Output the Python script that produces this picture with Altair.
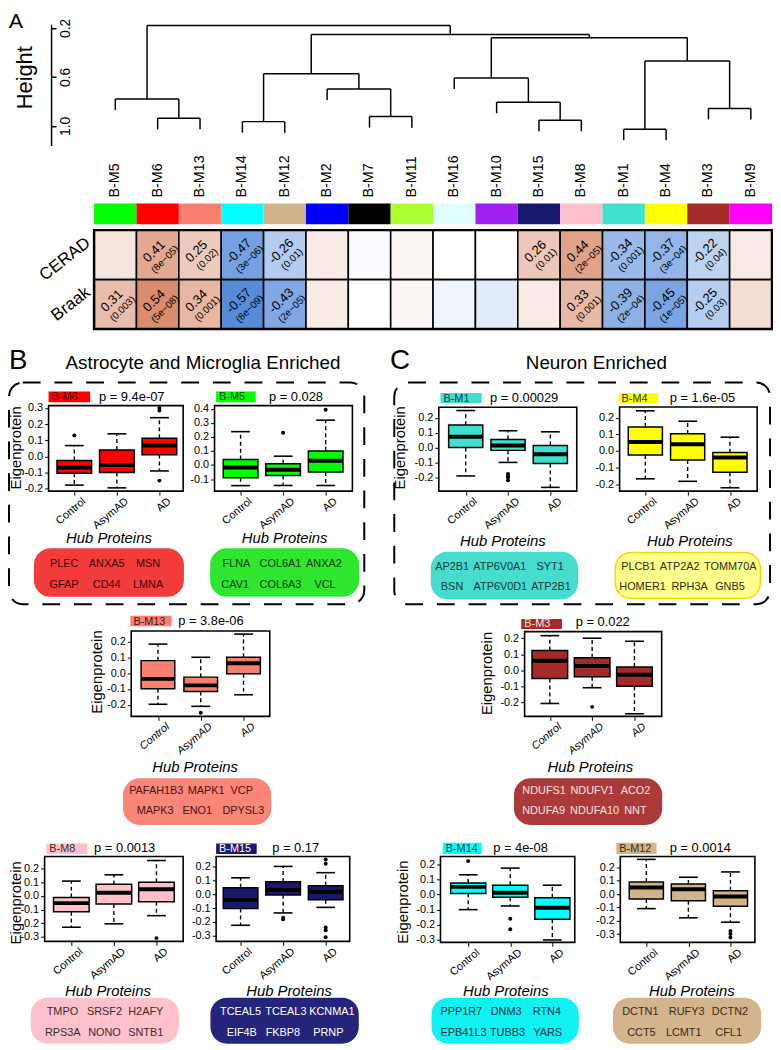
import altair as alt
import pandas as pd

OFF = 8
W, H = 773, 1042
FONT = "Liberation Sans"


def X(v):
    return v - OFF


def Y(v):
    return v - OFF


# ------------------------------------------------------------------ data (panel A)
LEAVES = ["B-M5", "B-M6", "B-M13", "B-M14", "B-M12", "B-M2", "B-M7", "B-M11",
          "B-M16", "B-M10", "B-M15", "B-M8", "B-M1", "B-M4", "B-M3", "B-M9"]
MODULE_COLORS = ["#00FF00", "#FF0000", "#FA8072", "#00FFFF", "#D2B48C", "#0000FF", "#000000", "#ADFF2F",
                 "#E0FFFF", "#A020F0", "#191970", "#FFC0CB", "#40E0D0", "#FFFF00", "#A52A2A", "#FF00FF"]
# hierarchical merges (R hclust style): "#k" refers to the k-th merge
MERGE_A = ["B-M1", "B-M14", "B-M15", "B-M6", "B-M7", "B-M3", "B-M10", "B-M5", "B-M2", "B-M16",
           "#2", "#1", "#10", "#11", "#8"]
MERGE_B = ["B-M4", "B-M12", "B-M8", "B-M13", "B-M11", "B-M9", "#3", "#4", "#5", "#7",
           "#9", "#6", "#12", "#13", "#14"]
MERGE_H = [1.027, 0.965, 0.954, 0.938, 0.924, 0.857, 0.806, 0.78, 0.698, 0.609,
           0.574, 0.469, 0.28, 0.253, 0.18]
HANG = 0.09

CERAD_R = [0.12, 0.41, 0.25, -0.47, -0.26, 0.10, -0.02, 0.04, 0.0, 0.0, 0.26, 0.44, -0.34, -0.37, -0.22, 0.10]
CERAD_P = ["", "8e\u221205", "0.02", "3e\u221206", "0.01", "", "", "", "", "", "0.01", "2e\u221205",
           "0.001", "3e\u221204", "0.04", ""]
BRAAK_R = [0.31, 0.54, 0.34, -0.57, -0.43, 0.09, 0.0, 0.04, -0.05, -0.10, 0.10, 0.33, -0.39, -0.45, -0.25, 0.16]
BRAAK_P = ["0.003", "5e\u221208", "0.001", "8e\u221209", "2e\u221205", "", "", "", "", "", "", "0.001",
           "2e\u221204", "1e\u221205", "0.03", ""]
TRAITS = ["CERAD", "Braak"]

# ------------------------------------------------------------------ data (boxplots)
GROUPS = ["Control", "AsymAD", "AD"]
STATS = {
    "B-M6": dict(lo=[-0.178, -0.195, -0.09], q1=[-0.104, -0.10, 0.011], med=[-0.069, -0.054, 0.067],
                 q3=[-0.025, 0.04, 0.113], hi=[0.067, 0.14, 0.24]),
    "B-M5": dict(lo=[-0.147, -0.146, -0.146], q1=[-0.091, -0.075, -0.05], med=[-0.017, -0.033, 0.030],
                 q3=[0.039, 0.009, 0.10], hi=[0.238, 0.063, 0.32]),
    "B-M1": dict(lo=[-0.191, -0.10, -0.268], q1=[0.0, -0.019, -0.107], med=[0.072, 0.014, -0.045],
                 q3=[0.151, 0.054, 0.014], hi=[0.249, 0.113, 0.106]),
    "B-M4": dict(lo=[-0.168, -0.183, -0.222], q1=[-0.024, -0.055, -0.129], med=[0.054, 0.04, -0.04],
                 q3=[0.145, 0.103, -0.01], hi=[0.242, 0.179, 0.083]),
    "B-M13": dict(lo=[-0.196, -0.209, -0.136], q1=[-0.098, -0.115, -0.004], med=[-0.036, -0.077, 0.062],
                  q3=[0.079, -0.025, 0.10], hi=[0.183, 0.10, 0.246]),
    "B-M3": dict(lo=[-0.206, -0.108, -0.27], q1=[-0.051, -0.04, -0.099], med=[0.06, 0.027, -0.027],
                 q3=[0.123, 0.078, 0.021], hi=[0.216, 0.20, 0.181]),
    "B-M8": dict(lo=[-0.23, -0.205, -0.145], q1=[-0.116, -0.06, -0.043], med=[-0.053, 0.024, 0.049],
                 q3=[-0.012, 0.085, 0.101], hi=[0.109, 0.155, 0.26]),
    "B-M15": dict(lo=[-0.224, -0.135, -0.095], q1=[-0.104, -0.005, -0.04], med=[-0.04, 0.031, 0.018],
                  q3=[0.047, 0.089, 0.061], hi=[0.118, 0.20, 0.155]),
    "B-M14": dict(lo=[-0.10, -0.076, -0.30], q1=[0.007, -0.018, -0.163], med=[0.05, 0.012, -0.088],
                  q3=[0.076, 0.061, -0.022], hi=[0.13, 0.174, 0.061]),
    "B-M12": dict(lo=[-0.109, -0.178, -0.211], q1=[-0.037, -0.05, -0.092], med=[0.049, 0.036, -0.018],
                  q3=[0.091, 0.076, 0.025], hi=[0.26, 0.126, 0.166]),
}
OUT_G = {
    "B-M6": ["Control", "AD", "AD", "AD"], "B-M5": ["AsymAD", "AD"],
    "B-M1": ["AsymAD", "AsymAD", "AsymAD", "AsymAD"], "B-M4": [],
    "B-M13": ["AsymAD"], "B-M3": ["AsymAD"], "B-M8": ["AD"],
    "B-M15": ["AsymAD", "AsymAD", "AD", "AD", "AD", "AD", "AD"],
    "B-M14": ["Control", "AsymAD", "AsymAD"], "B-M12": ["AD", "AD", "AD"],
}
OUT_V = {
    "B-M6": [0.13, 0.285, 0.30, -0.15], "B-M5": [0.23, 0.394],
    "B-M1": [-0.177, -0.19, -0.20, -0.22], "B-M4": [],
    "B-M13": [-0.25], "B-M3": [-0.227], "B-M8": [-0.31],
    "B-M15": [-0.17, -0.18, 0.25, 0.22, -0.24, -0.26, -0.31],
    "B-M14": [0.22, -0.16, -0.229], "B-M12": [-0.277, -0.30, -0.325],
}
PVAL = {"B-M6": "9.4e-07", "B-M5": "0.028", "B-M1": "0.00029", "B-M4": "1.6e-05", "B-M13": "3.8e-06",
        "B-M3": "0.022", "B-M8": "0.0013", "B-M15": "0.17", "B-M14": "4e-08", "B-M12": "0.0014"}
HUB = {
    "B-M6": ["PLEC", "ANXA5", "MSN", "GFAP", "CD44", "LMNA"],
    "B-M5": ["FLNA", "COL6A1", "ANXA2", "CAV1", "COL6A3", "VCL"],
    "B-M1": ["AP2B1", "ATP6V0A1", "SYT1", "BSN", "ATP6V0D1", "ATP2B1"],
    "B-M4": ["PLCB1", "ATP2A2", "TOMM70A", "HOMER1", "RPH3A", "GNB5"],
    "B-M13": ["PAFAH1B3", "MAPK1", "VCP", "MAPK3", "ENO1", "DPYSL3"],
    "B-M3": ["NDUFS1", "NDUFV1", "ACO2", "NDUFA9", "NDUFA10", "NNT"],
    "B-M8": ["TMPO", "SRSF2", "H2AFY", "RPS3A", "NONO", "SNTB1"],
    "B-M15": ["TCEAL5", "TCEAL3", "KCNMA1", "EIF4B", "FKBP8", "PRNP"],
    "B-M14": ["PPP1R7", "DNM3", "RTN4", "EPB41L3", "TUBB3", "YARS"],
    "B-M12": ["DCTN1", "RUFY3", "DCTN2", "CCT5", "LCMT1", "CFL1"],
}

# ------------------------------------------------------------------ styles / layout
STYLE = {  # box fill, pill fill, pill stroke, text colour
    "B-M6": ("#FF0000", "#f23b3b", "#f23b3b", "#3d0808"),
    "B-M5": ("#00FF00", "#2ee62e", "#2ee62e", "#0b3a0b"),
    "B-M1": ("#40E0D0", "#48dccf", "#48dccf", "#0d3a37"),
    "B-M4": ("#FFFF00", "#ffff8c", "#e8e000", "#2e2e10"),
    "B-M13": ("#FA8072", "#f98677", "#f98677", "#4a1410"),
    "B-M3": ("#A52A2A", "#ab3a3a", "#ab3a3a", "#f8e0e0"),
    "B-M8": ("#FFC0CB", "#ffc2cc", "#ffc2cc", "#3a2a2c"),
    "B-M15": ("#191970", "#24247a", "#24247a", "#ffffff"),
    "B-M14": ("#00FFFF", "#10f2f2", "#10f2f2", "#0a3440"),
    "B-M12": ("#D2B48C", "#d4b48c", "#d4b48c", "#3a2c18"),
}
T3 = [-0.2, -0.1, 0.0, 0.1, 0.2, 0.3]
T4 = [-0.1, 0.0, 0.1, 0.2, 0.3, 0.4]
T2 = [-0.2, -0.1, 0.0, 0.1, 0.2]
T5 = [-0.3, -0.2, -0.1, 0.0, 0.1, 0.2]
LAY = {
    "B-M6": dict(fx=(49, 185), fy=(404.3, 490.7), c=(75, 161), bw=35, yd=(-0.215, 0.315), t=T3,
                 tag=(49, 91, 390, 401), pt=(100, 396), eig=(16, 447), hub=(110, 538.3),
                 pill=(35, 185, 549.3, 596.7), cols=[(64.7, 107.7, 149.5), (64.7, 107.8, 149.5)],
                 rows=(564.3, 586), it=False),
    "B-M5": dict(fx=(216.7, 356), fy=(404.3, 490.7), c=(243, 329), bw=35, yd=(-0.186, 0.424), t=T4,
                 tag=(218.3, 258.3, 390, 401), pt=(271.7, 396), eig=None, hub=(287.5, 538.3),
                 pill=(213, 362, 549.3, 596.7), cols=[(238.8, 283.3, 327.2), (237.5, 283.3, 328.3)],
                 rows=(564.3, 586), it=False),
    "B-M1": dict(fx=(443.3, 582.7), fy=(406, 490.7), c=(470.5, 556), bw=34.5, yd=(-0.293, 0.271), t=T2,
                 tag=(445, 486.7, 391.7, 401.7), pt=(495, 396.7), eig=(404.5, 447), hub=(508, 541),
                 pill=(436, 583.3, 552.7, 599.3), cols=[(456.7, 505, 555.8), (456.7, 505.5, 556.7)],
                 rows=(567.3, 587.7), it=False),
    "B-M4": dict(fx=(626, 765), fy=(405.7, 490.7), c=(652, 737.5), bw=34.5, yd=(-0.242, 0.265), t=T2,
                 tag=(625, 665, 391.7, 401.7), pt=(676.7, 396.7), eig=None, hub=(697, 541),
                 pill=(621.7, 768.3, 552.7, 599.3), cols=[(645, 686.7, 737.8), (649.2, 696.7, 737.5)],
                 rows=(567.3, 587.7), it=False),
    "B-M13": dict(fx=(132.5, 272.5), fy=(632, 718.3), c=(159.5, 246), bw=34, yd=(-0.272, 0.266), t=T2,
                  tag=(131.7, 173.3, 616.7, 627.3), pt=(180, 622.3), eig=(97.5, 673.5), hub=(197, 770),
                  pill=(125, 273.3, 781.7, 827.3), cols=[(157.8, 208.3, 244.2), (156.7, 199.2, 245.8)],
                  rows=(794, 814.3), it=True),
    "B-M3": dict(fx=(530, 668.5), fy=(632.7, 718.3), c=(555.5, 641), bw=36, yd=(-0.286, 0.241), t=T2,
                 tag=(526.7, 567.7, 620, 630), pt=(581.7, 623.3), eig=(492.5, 675), hub=(596.5, 770),
                 pill=(520, 668.3, 781.7, 827.3), cols=[(549.7, 598.3, 642), (549.2, 600.7, 642)],
                 rows=(794, 814.3), it=True),
    "B-M8": dict(fx=(45, 185), fy=(860, 945.7), c=(72, 158), bw=36, yd=(-0.334, 0.289), t=T5,
                 tag=(46.7, 88.3, 846.7, 857.3), pt=(95, 851.7), eig=(16, 906.7), hub=(109, 996),
                 pill=(31.7, 180, 1003.3, 1048.3), cols=[(63, 105.5, 147.2), (63.3, 105.5, 147.2)],
                 rows=(1017.3, 1038.3), it=False),
    "B-M15": dict(fx=(218.3, 353.3), fy=(860, 945.7), c=(243, 329), bw=35, yd=(-0.34, 0.271), t=T5,
                  tag=(218.3, 259.3, 846.7, 857.3), pt=(275, 851.7), eig=None, hub=(292, 996),
                  pill=(213.3, 361.7, 1003.3, 1048.3), cols=[(243, 288.8, 335.3), (244.2, 285.8, 331.7)],
                  rows=(1017.3, 1038.3), it=False),
    "B-M14": dict(fx=(445, 580.7), fy=(860, 946.7), c=(473, 558), bw=35.5, yd=(-0.316, 0.25), t=T5,
                  tag=(447.3, 486.7, 846, 857.3), pt=(498.3, 851.7), eig=(407, 906), hub=(511, 996),
                  pill=(436.7, 584, 1003.3, 1048.3), cols=[(466, 511.3, 552.5), (468.3, 512.7, 553.3)],
                  rows=(1017.3, 1038.3), it=False),
    "B-M12": dict(fx=(626.7, 762.7), fy=(860, 946.7), c=(653, 738), bw=34.5, yd=(-0.362, 0.281), t=T5,
                  tag=(622.7, 663.3, 846, 857.3), pt=(676.7, 851.7), eig=None, hub=(699, 996),
                  pill=(620, 768.3, 1003.3, 1048.3), cols=[(647, 693.8, 737.5), (648, 690.8, 736.2)],
                  rows=(1017.3, 1038.3), it=False),
}

NEG_FMT = "datum.value < 0 ? '-' + format(-datum.value, '.1f') : format(datum.value, '.1f')"
layers = []

# ------------------------------------------------------------------ panel A
pos = {n: i for i, n in enumerate(LEAVES)}
node_x, node_h, segs = {}, {}, []
for k, (a, b, h) in enumerate(zip(MERGE_A, MERGE_B, MERGE_H), start=1):
    xs = []
    for c in (a, b):
        if c.startswith("#"):
            cx, ch = node_x[c], node_h[c]
        else:
            cx, ch = pos[c], h + HANG
        segs.append(dict(x=cx, x2=cx, y=ch, y2=h))
        xs.append(cx)
    segs.append(dict(x=xs[0], x2=xs[1], y=h, y2=h))
    node_x["#%d" % k] = sum(xs) / 2.0
    node_h["#%d" % k] = h

xs_top = alt.Scale(domain=[-0.5, 15.5], range=[X(95), X(780)], nice=False, zero=False)
ys_dend = alt.Scale(domain=[0.17, 1.16], range=[Y(19), Y(141.5)], nice=False, zero=False)
ys_heat = alt.Scale(domain=[-0.5, 1.5], range=[Y(227), Y(327)], nice=False, zero=False)

layers.append(
    alt.Chart(pd.DataFrame(segs)).mark_rule(color="black", strokeWidth=1.5).encode(
        x=alt.X("x:Q", scale=xs_top, axis=None), x2="x2",
        y=alt.Y("y:Q", scale=ys_dend, axis=alt.Axis(
            orient="right", offset=X(51.5) - W, values=[0.2, 0.6, 1.0], format=".1f", title=None,
            labelAngle=270, labelAlign="center", labelBaseline="top", labelFontSize=14, labelPadding=3,
            tickSize=5, tickWidth=1.5, domainWidth=1.5, grid=False)),
        y2="y2")
)

leaf_df = pd.DataFrame({"i": list(range(16)), "name": LEAVES, "col": MODULE_COLORS})
leaf_df["a"] = leaf_df["i"] - 0.5
leaf_df["b"] = leaf_df["i"] + 0.5
layers.append(
    alt.Chart(leaf_df).mark_text(angle=270, align="left", baseline="middle", fontSize=14.5, color="black").encode(
        x=alt.X("i:Q", scale=xs_top, axis=None), y=alt.value(Y(194)), text="name:N")
)
layers.append(
    alt.Chart(leaf_df).mark_rect().encode(
        x=alt.X("a:Q", scale=xs_top, axis=None), x2="b",
        y=alt.value(Y(200)), y2=alt.value(Y(221)),
        color=alt.Color("col:N", scale=None))
)

rows = []
for ti, (rv, pv) in enumerate([(CERAD_R, CERAD_P), (BRAAK_R, BRAAK_P)]):
    for i in range(16):
        rows.append(dict(i=i, a=i - 0.5, b=i + 0.5, row=ti, r0=ti - 0.5, r1=ti + 0.5, val=rv[i],
                         vtxt=("%.2f" % rv[i]) if pv[i] else "", ptxt=("(%s)" % pv[i]) if pv[i] else ""))
heat_df = pd.DataFrame(rows)
layers.append(
    alt.Chart(heat_df).mark_rect(stroke="black", strokeWidth=1.6).encode(
        x=alt.X("a:Q", scale=xs_top, axis=None), x2="b",
        y=alt.Y("r0:Q", scale=ys_heat, axis=None), y2="r1",
        color=alt.Color("val:Q", legend=None, scale=alt.Scale(
            domain=[-0.6, 0, 0.6], range=["#4f86d9", "#ffffff", "#d5805e"], clamp=True, interpolate="rgb")))
)
layers.append(
    alt.Chart(pd.DataFrame({"a": [-0.5], "b": [15.5], "r0": [-0.5], "r1": [1.5]})).mark_rect(
        fillOpacity=0, stroke="black", strokeWidth=2.5).encode(
        x=alt.X("a:Q", scale=xs_top, axis=None), x2="b",
        y=alt.Y("r0:Q", scale=ys_heat, axis=None), y2="r1")
)
layers.append(
    alt.Chart(heat_df).mark_text(angle=315, fontSize=13, dy=-5, color="black").encode(
        x=alt.X("i:Q", scale=xs_top, axis=None), y=alt.Y("row:Q", scale=ys_heat, axis=None), text="vtxt:N")
)
layers.append(
    alt.Chart(heat_df).mark_text(angle=315, fontSize=10, dy=8.5, dx=2, color="black").encode(
        x=alt.X("i:Q", scale=xs_top, axis=None), y=alt.Y("row:Q", scale=ys_heat, axis=None), text="ptxt:N")
)
for name, yy in zip(TRAITS, [238, 288]):
    layers.append(
        alt.Chart(pd.DataFrame({"t": [name]})).mark_text(
            angle=322, align="right", baseline="middle", fontSize=17, color="black").encode(
            x=alt.value(X(89)), y=alt.value(Y(yy)), text="t:N")
    )

# letters and headings
layers.append(alt.Chart(pd.DataFrame({"t": ["A"]})).mark_text(
    align="left", baseline="alphabetic", fontSize=21).encode(x=alt.value(X(9)), y=alt.value(Y(23)), text="t:N"))
layers.append(alt.Chart(pd.DataFrame({"t": ["Height"]})).mark_text(
    angle=270, align="center", baseline="middle", fontSize=22).encode(x=alt.value(X(25)), y=alt.value(Y(73)), text="t:N"))
layers.append(alt.Chart(pd.DataFrame({"t": ["B"]})).mark_text(
    align="left", baseline="alphabetic", fontSize=28).encode(x=alt.value(X(9)), y=alt.value(Y(367)), text="t:N"))
layers.append(alt.Chart(pd.DataFrame({"t": ["C"]})).mark_text(
    align="left", baseline="alphabetic", fontSize=28).encode(x=alt.value(X(394)), y=alt.value(Y(367)), text="t:N"))
layers.append(alt.Chart(pd.DataFrame({"t": ["Astrocyte and Microglia Enriched"]})).mark_text(
    align="center", baseline="middle", fontSize=19).encode(x=alt.value(X(205)), y=alt.value(Y(361)), text="t:N"))
layers.append(alt.Chart(pd.DataFrame({"t": ["Neuron Enriched"]})).mark_text(
    align="center", baseline="middle", fontSize=19).encode(x=alt.value(X(602.5)), y=alt.value(Y(361)), text="t:N"))

# dashed group boxes
dash_df = pd.DataFrame({"x0": [X(9), X(398.3)], "x1": [X(368), X(778)], "y0": [Y(381), Y(381)], "y1": [Y(605), Y(605)]})
layers.append(
    alt.Chart(dash_df).mark_rect(fillOpacity=0, stroke="black", strokeWidth=2, strokeDash=[18, 14],
                                 cornerRadius=14).encode(
        x=alt.X("x0:Q", scale=None, axis=None), x2="x1", y=alt.Y("y0:Q", scale=None, axis=None), y2="y1")
)

# ------------------------------------------------------------------ boxplot panels
frames, tags, tagtxt, ptxt, hubt, pills, pilltxt, eig = [], [], [], [], [], [], [], []
for name, st in STATS.items():
    L = LAY[name]
    box_col, pill_fill, pill_stroke, txt_col = STYLE[name]
    xs = alt.Scale(type="point", domain=GROUPS, range=[X(L["c"][0]), X(L["c"][1])], padding=0)
    ys = alt.Scale(domain=list(L["yd"]), range=[Y(L["fy"][1]), Y(L["fy"][0])], nice=False, zero=False)
    df = pd.DataFrame({"g": GROUPS, "lo": st["lo"], "q1": st["q1"], "med": st["med"], "q3": st["q3"], "hi": st["hi"]})
    wh = pd.concat([df.assign(a=df.q3, b=df.hi), df.assign(a=df.q1, b=df.lo)])
    caps = pd.concat([df.assign(v=df.hi), df.assign(v=df.lo)])
    xenc = alt.X("g:N", scale=xs, axis=None, sort=GROUPS)
    layers.append(alt.Chart(wh).mark_rule(color="black", strokeWidth=1.4, strokeDash=[4, 3]).encode(
        x=xenc, y=alt.Y("a:Q", scale=ys, axis=None), y2="b"))
    layers.append(alt.Chart(caps).mark_tick(color="black", thickness=1.6, size=19, opacity=1).encode(
        x=xenc, y=alt.Y("v:Q", scale=ys, axis=None)))
    xaxis = alt.Axis(orient="bottom", offset=Y(L["fy"][1]) - H, labelAngle=-40, labelAlign="right",
                     labelBaseline="top", labelFontSize=11, labelFontStyle="italic" if L["it"] else "normal",
                     tickSize=4, labelPadding=0, labelOffset=6, domain=False, title=None, grid=False)
    yaxis = alt.Axis(orient="left", offset=-X(L["fx"][0]), values=L["t"], labelExpr=NEG_FMT, labelFontSize=11,
                     tickSize=4, labelPadding=2, domain=False, title=None, grid=False)
    layers.append(alt.Chart(df).mark_bar(size=L["bw"], color=box_col, stroke="black", strokeWidth=1.5,
                                         opacity=1).encode(
        x=alt.X("g:N", scale=xs, axis=xaxis, sort=GROUPS),
        y=alt.Y("q1:Q", scale=ys, axis=yaxis), y2="q3"))
    layers.append(alt.Chart(df).mark_tick(color="black", thickness=4, size=L["bw"], opacity=1).encode(
        x=xenc, y=alt.Y("med:Q", scale=ys, axis=None)))
    if OUT_G[name]:
        od = pd.DataFrame({"g": OUT_G[name], "v": OUT_V[name]})
        layers.append(alt.Chart(od).mark_circle(size=16, color="black", opacity=1).encode(
            x=xenc, y=alt.Y("v:Q", scale=ys, axis=None)))

    frames.append(dict(x0=X(L["fx"][0]), x1=X(L["fx"][1]), y0=Y(L["fy"][0]), y1=Y(L["fy"][1])))
    t = L["tag"]
    tags.append(dict(x0=X(t[0]), x1=X(t[1]), y0=Y(t[2]), y1=Y(t[3]), col=box_col))
    tagtxt.append(dict(x=X(t[0] + 3), y=Y((t[2] + t[3]) / 2 + 0.5), t=name, col=txt_col))
    ptxt.append(dict(x=X(L["pt"][0]), y=Y(L["pt"][1]), t="p = " + PVAL[name]))
    hubt.append(dict(x=X(L["hub"][0]), y=Y(L["hub"][1]), t="Hub Proteins"))
    p = L["pill"]
    pills.append(dict(x0=X(p[0]), x1=X(p[1]), y0=Y(p[2]), y1=Y(p[3]), fill=pill_fill, stroke=pill_stroke))
    for ri in range(2):
        for ci in range(3):
            pilltxt.append(dict(x=X(L["cols"][ri][ci]), y=Y(L["rows"][ri]), t=HUB[name][ri * 3 + ci], col=txt_col))
    if L["eig"]:
        eig.append(dict(x=X(L["eig"][0]), y=Y(L["eig"][1]), t="Eigenprotein"))

ident = dict(scale=None, axis=None)
layers.append(alt.Chart(pd.DataFrame(frames)).mark_rect(fillOpacity=0, stroke="black", strokeWidth=1.6).encode(
    x=alt.X("x0:Q", **ident), x2="x1", y=alt.Y("y0:Q", **ident), y2="y1"))
layers.append(alt.Chart(pd.DataFrame(tags)).mark_rect().encode(
    x=alt.X("x0:Q", **ident), x2="x1", y=alt.Y("y0:Q", **ident), y2="y1", color=alt.Color("col:N", scale=None)))
layers.append(alt.Chart(pd.DataFrame(tagtxt)).mark_text(align="left", baseline="middle", fontSize=11).encode(
    x=alt.X("x:Q", **ident), y=alt.Y("y:Q", **ident), text="t:N", color=alt.Color("col:N", scale=None)))
layers.append(alt.Chart(pd.DataFrame(ptxt)).mark_text(align="left", baseline="middle", fontSize=13,
                                                       color="black").encode(
    x=alt.X("x:Q", **ident), y=alt.Y("y:Q", **ident), text="t:N"))
layers.append(alt.Chart(pd.DataFrame(hubt)).mark_text(align="center", baseline="middle", fontSize=15,
                                                       fontStyle="italic", color="black").encode(
    x=alt.X("x:Q", **ident), y=alt.Y("y:Q", **ident), text="t:N"))
layers.append(alt.Chart(pd.DataFrame(pills)).mark_rect(cornerRadius=16, strokeWidth=1.5).encode(
    x=alt.X("x0:Q", **ident), x2="x1", y=alt.Y("y0:Q", **ident), y2="y1",
    color=alt.Color("fill:N", scale=None), stroke=alt.Stroke("stroke:N", scale=None)))
layers.append(alt.Chart(pd.DataFrame(pilltxt)).mark_text(align="center", baseline="middle", fontSize=11).encode(
    x=alt.X("x:Q", **ident), y=alt.Y("y:Q", **ident), text="t:N", color=alt.Color("col:N", scale=None)))
layers.append(alt.Chart(pd.DataFrame(eig)).mark_text(angle=270, align="center", baseline="middle", fontSize=15,
                                                      color="black").encode(
    x=alt.X("x:Q", **ident), y=alt.Y("y:Q", **ident), text="t:N"))

chart = (
    alt.layer(*layers)
    .resolve_scale(x="independent", y="independent", color="independent", stroke="independent")
    .properties(width=W, height=H, autosize=alt.AutoSizeParams(type="none"), padding=0)
    .configure(font=FONT)
    .configure_view(stroke=None)
    .configure_axis(labelFont=FONT, labelColor="black", tickColor="black", domainColor="black", grid=False)
)
chart.save("out.html", embed_options={"renderer": "svg", "actions": False})
